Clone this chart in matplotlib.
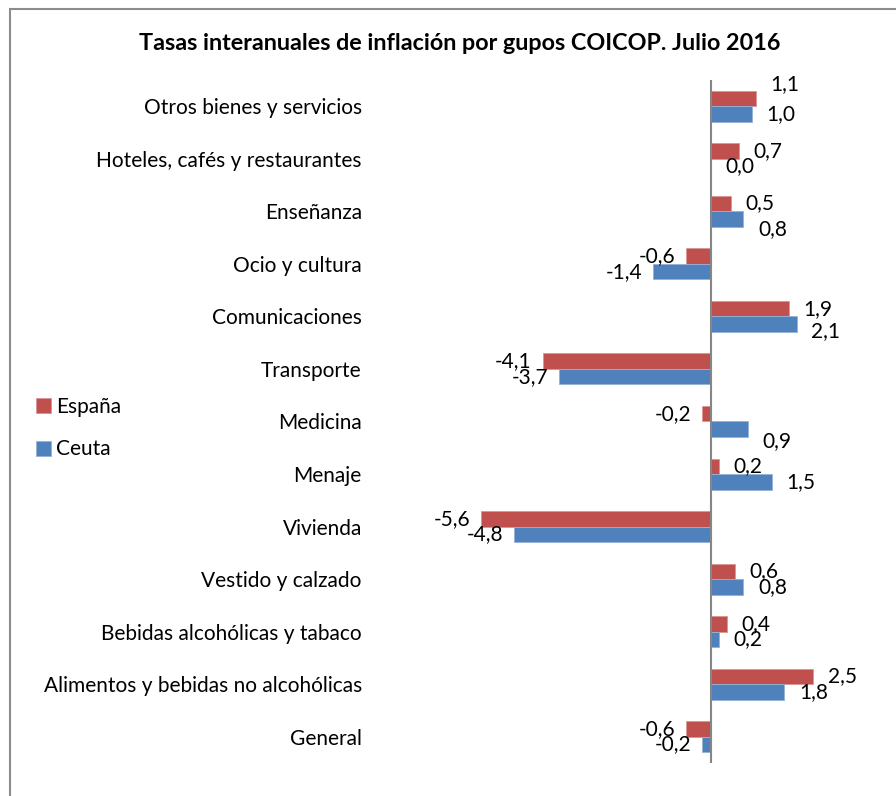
import matplotlib
matplotlib.use("Agg")
import matplotlib.pyplot as plt
from matplotlib.patches import Rectangle
import numpy as np

plt.rcParams['font.family'] = ['Lato', 'DejaVu Sans']

categories = ["General", "Alimentos y bebidas no alcohólicas", "Bebidas alcohólicas y tabaco",
              "Vestido y calzado", "Vivienda", "Menaje", "Medicina", "Transporte",
              "Comunicaciones", "Ocio y cultura", "Enseñanza",
              "Hoteles, cafés y restaurantes", "Otros bienes y servicios"]
espana = [-0.6, 2.5, 0.4, 0.6, -5.6, 0.2, -0.2, -4.1, 1.9, -0.6, 0.5, 0.7, 1.1]
ceuta = [-0.2, 1.8, 0.2, 0.8, -4.8, 1.5, 0.9, -3.7, 2.1, -1.4, 0.8, 0.0, 1.0]
series_names = ["España", "Ceuta"]
title = "Tasas interanuales de inflación por gupos COICOP. Julio 2016"

RED = "#C0504D"
BLUE = "#4F81BD"

# extra vertical label nudges (pixels, + up) for a few labels, as in the reference
nudge_esp = {"Otros bienes y servicios": 14}
nudge_ceu = {"Enseñanza": -10, "Comunicaciones": -7, "Medicina": -12}

FS = 15

fig = plt.figure(figsize=(8.96, 7.96), dpi=100)
ax = fig.add_axes([0.4271, 0.0415, 0.549, 0.858])

y = np.arange(len(categories))
h = 0.295
ax.barh(y + h / 2, espana, height=h, color=RED, edgecolor="#D99694", linewidth=0.6, label=series_names[0])
ax.barh(y - h / 2, ceuta, height=h, color=BLUE, edgecolor="#95B3D7", linewidth=0.6, label=series_names[1])

ax.set_xlim(-8, 4)
ax.set_ylim(-0.5, len(categories) - 0.5)
ax.axvline(0, color="#868686", lw=1.5)
for s in ax.spines.values():
    s.set_visible(False)
ax.set_xticks([])
ax.set_yticks(y)
ax.set_yticklabels(categories, fontsize=FS)
ax.tick_params(axis='y', length=0, pad=15)

def fmt(v):
    return f"{v:.1f}".replace(".", ",")

for i, cat in enumerate(categories):
    for vals, off, nd in ((espana, h / 2, nudge_esp), (ceuta, -h / 2, nudge_ceu)):
        v = vals[i]
        dx = 29 if v >= 0 else -29
        ax.annotate(fmt(v), xy=(v, y[i] + off), xytext=(dx, nd.get(cat, 0)),
                    textcoords="offset pixels", ha="center", va="center", fontsize=FS)

fig.text(460 / 896, 1 - 43 / 796, title, ha="center", va="center", fontsize=16.8, fontweight="bold")

leg = fig.legend(loc="center left", bbox_to_anchor=(0.040, 1 - 428 / 796), frameon=False,
                 fontsize=FS, handlelength=0.75, handleheight=0.75, handletextpad=0.2,
                 labelspacing=1.1, borderpad=0, borderaxespad=0)

fig.add_artist(Rectangle((9.5 / 896, -0.05), 1.2, 1 - 8.5 / 796 + 0.05, transform=fig.transFigure,
                         fill=False, edgecolor="#8C8C8C", lw=1.5))

fig.savefig("out.png", dpi=100)
